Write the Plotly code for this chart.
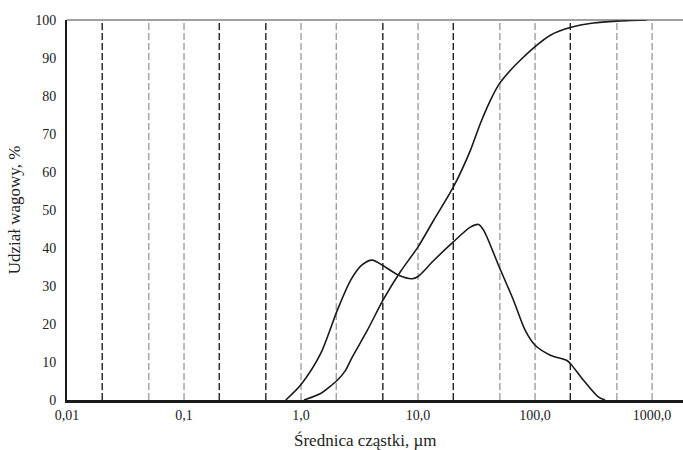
import plotly.graph_objects as go

# Particle size distribution data
freq_x = [0.74, 1.0, 1.47, 2.04, 2.65, 3.3, 4.06, 5.0, 6.84, 8.9, 10.0, 13.6, 20.0, 28.0, 32.9, 36.3, 49.4, 65.5, 82.4, 100.0, 135.0, 187.0, 200.0, 259.0, 347.0, 396.0]
freq_y = [0.0, 4.1, 12.2, 23.6, 31.5, 35.5, 36.8, 35.4, 32.8, 31.9, 32.5, 36.7, 41.6, 45.5, 46.2, 44.7, 35.0, 26.2, 18.3, 14.4, 11.8, 10.4, 9.6, 5.2, 0.8, 0.0]

cum_x = [1.06, 1.47, 2.04, 2.4, 2.74, 3.68, 5.0, 7.08, 10.0, 13.6, 20.0, 28.0, 34.0, 41.4, 49.4, 61.3, 74.6, 100.0, 135.0, 200.0, 315.0, 500.0, 900.0]
cum_y = [0.0, 1.7, 5.2, 7.8, 11.3, 18.3, 26.2, 33.8, 40.3, 47.3, 56.0, 65.7, 72.7, 78.8, 83.2, 86.7, 89.4, 93.0, 96.0, 98.0, 99.2, 99.7, 100.0]

tick_vals = [0.01, 0.1, 1, 10, 100, 1000]
tick_text = ["0,01", "0,1", "1,0", "10,0", "100,0", "1000,0"]

dark_lines = [0.02, 0.2, 0.5, 5, 20, 200]
gray_lines = [0.05, 0.1, 1, 2, 10, 50, 100, 500, 1000]

fig = go.Figure()
fig.add_trace(go.Scatter(x=freq_x, y=freq_y, mode="lines",
                         line=dict(color="#1a1a1a", width=1.6, shape="spline", smoothing=0.8),
                         showlegend=False))
fig.add_trace(go.Scatter(x=cum_x, y=cum_y, mode="lines",
                         line=dict(color="#1a1a1a", width=1.6, shape="spline", smoothing=0.6),
                         showlegend=False))

shapes = []
for v in dark_lines:
    shapes.append(dict(type="line", xref="x", yref="paper", x0=v, x1=v, y0=0, y1=1,
                       line=dict(color="#222222", width=1.4, dash="7px,3px"), layer="below"))
for v in gray_lines:
    shapes.append(dict(type="line", xref="x", yref="paper", x0=v, x1=v, y0=0, y1=1,
                       line=dict(color="#a0a0a0", width=1.4, dash="7px,3px"), layer="below"))
shapes.append(dict(type="line", xref="paper", yref="paper", x0=0, x1=1, y0=1, y1=1,
                   line=dict(color="#444444", width=1.2)))

fig.update_layout(
    width=683, height=450,
    margin=dict(l=67, r=0, t=20, b=50),
    plot_bgcolor="white", paper_bgcolor="white",
    font=dict(family="Liberation Serif, Times New Roman, serif", size=14, color="#222222"),
    shapes=shapes,
    annotations=[dict(text="Średnica cząstki, µm", xref="paper", yref="paper",
                      x=0.484, y=-0.106, xanchor="center", yanchor="middle",
                      showarrow=False, font=dict(size=17))],
    xaxis=dict(type="log", range=[-2, 3.264], tickvals=tick_vals, ticktext=tick_text,
               showgrid=False, zeroline=False, showline=True, linecolor="#1a1a1a", linewidth=2.5,
               ticks="", tickfont=dict(size=14)),
    yaxis=dict(range=[0, 100], tickvals=list(range(0, 101, 10)),
               showgrid=False, zeroline=False, showline=True, linecolor="#1a1a1a", linewidth=1.8,
               ticks="", tickfont=dict(size=14), ticklabelstandoff=6,
               title=dict(text="Udział wagowy, %", font=dict(size=17), standoff=10)),
)

fig.write_html("out.html")
